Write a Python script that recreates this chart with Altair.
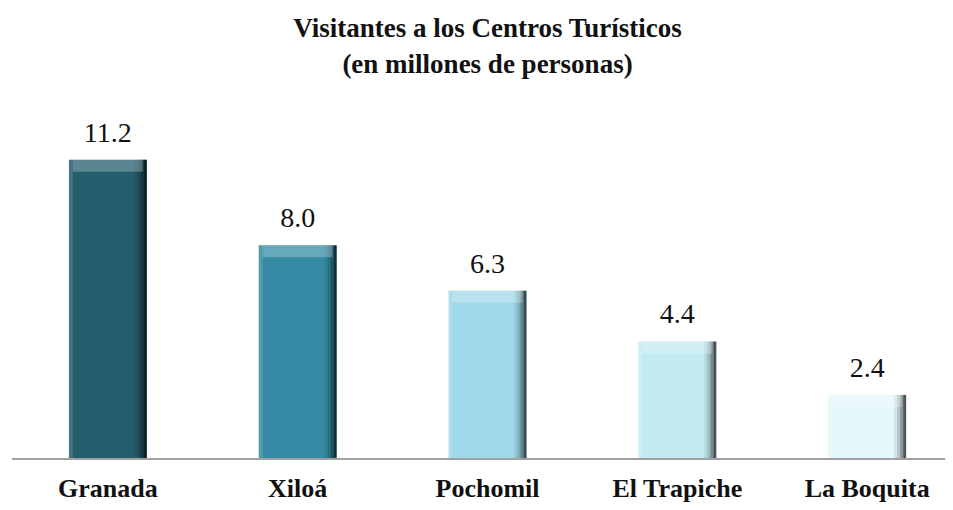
import altair as alt
import pandas as pd

categories = ["Granada", "Xiloá", "Pochomil", "El Trapiche", "La Boquita"]
values = [11.2, 8.0, 6.3, 4.4, 2.4]
labels = ["11.2", "8.0", "6.3", "4.4", "2.4"]
colors = ["#245d6b", "#348ba3", "#9fd8e8", "#c3eaf3", "#e4f7fb"]

df = pd.DataFrame({"cat": categories, "val": values, "lab": labels})

FONT = "Times New Roman"
W, H = 915, 379

xscale = alt.Scale(domain=categories, paddingInner=0.59, paddingOuter=0.205)
yscale = alt.Scale(domain=[0, 14.19], nice=False)

x = alt.X("cat:N", scale=xscale,
          axis=alt.Axis(title=None, labelAngle=0, ticks=False, grid=False, domain=False,
                        labelFont=FONT, labelFontSize=26, labelFontWeight="bold",
                        labelColor="#111111", labelPadding=16))
y = alt.Y("val:Q", scale=yscale, axis=None)

base = alt.Chart(df)

bars = base.mark_bar().encode(
    x=x, y=y,
    color=alt.Color("cat:N", scale=alt.Scale(domain=categories, range=colors), legend=None),
)

strips = []
for off, w, col, op in [(37.5, 3, "#000000", 0.65), (34.5, 3, "#000000", 0.4),
                        (31.5, 3, "#000000", 0.2), (28.5, 3, "#000000", 0.08),
                        (-37.0, 4, "#ffffff", 0.15)]:
    strips.append(base.mark_bar(size=w, xOffset=off, color=col, opacity=op).encode(x=x, y=y))

top_strip = base.mark_tick(thickness=12, size=70, yOffset=6, color="#ffffff",
                           opacity=0.25).encode(x=x, y=y)

text = base.mark_text(baseline="alphabetic", dy=-18, font=FONT, fontSize=28,
                      color="#111111").encode(x=x, y=y, text="lab:N")

baseline = alt.Chart(df).mark_rule(color="#a0a0a0", strokeWidth=2).encode(
    x=alt.value(-18), x2=alt.value(W), y=alt.value(H))

chart = alt.layer(bars, *strips, top_strip, text, baseline).properties(
    width=W, height=H,
    title=alt.TitleParams(
        text=["Visitantes a los Centros Turísticos", "(en millones de personas)"],
        font=FONT, fontSize=27, fontWeight="bold", color="#111111",
        lineHeight=36, anchor="middle", offset=1,
    ),
    autosize=alt.AutoSizeParams(type="none"),
    padding={"left": 22, "top": 72, "right": 0, "bottom": 43},
).configure_view(stroke=None)

chart.save("out.html", embed_options={"renderer": "svg", "actions": False})
